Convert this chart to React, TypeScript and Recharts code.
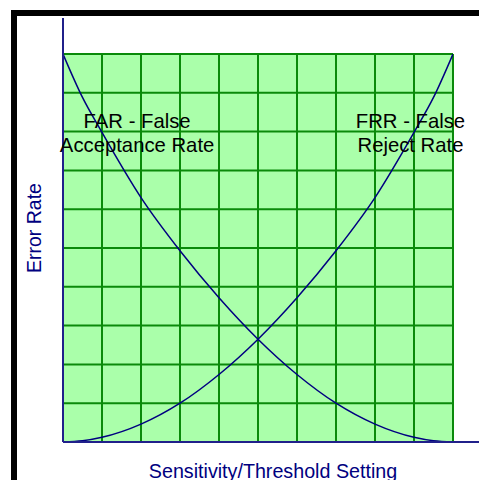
import React from "react";
import { LineChart, Line, XAxis, YAxis, CartesianGrid, ReferenceLine, ReferenceDot } from "recharts";

const thresholds = [0, 0.5, 1, 2, 3, 4, 5, 6, 7, 8, 9, 9.5, 10];
const farValues = [10, 8.88, 7.98, 6.3, 4.93, 3.72, 2.65, 1.74, 1.0, 0.46, 0.12, 0.03, 0];
const frrValues = [0, 0.03, 0.12, 0.46, 1.0, 1.74, 2.65, 3.72, 4.93, 6.3, 7.98, 8.88, 10];
const gridTicks = [0, 1, 2, 3, 4, 5, 6, 7, 8, 9, 10];

const farLabel = ["FAR - False", "Acceptance Rate"];
const frrLabel = ["FRR - False", "Reject Rate"];
const xTitle = "Sensitivity/Threshold Setting";
const yTitle = "Error Rate";

const data = thresholds.map((x, i) => ({ x, far: farValues[i], frr: frrValues[i] }));

const NAVY = "#000080";
const FONT = '"Liberation Sans", Arial, Helvetica, sans-serif';

export default function App() {
  return (
    <div style={{ position: "relative", width: 479, height: 472 }}>
      <div
        style={{
          position: "absolute",
          left: 3,
          top: 2,
          width: 476,
          height: 478,
          borderTop: "6px solid #000",
          borderLeft: "6px solid #000",
          boxSizing: "border-box",
        }}
      />
      <div style={{ position: "absolute", left: 0, top: 0 }}>
        <LineChart
          width={479}
          height={480}
          data={data}
          margin={{ top: 46, right: 34, bottom: 46, left: 55 }}
          style={{ fontFamily: FONT }}
        >
          <CartesianGrid
            fill="#aaffaa"
            fillOpacity={1}
            stroke="#0a8a0a"
            strokeWidth={2}
            strokeOpacity={1}
          />
          <XAxis type="number" dataKey="x" domain={[0, 10]} ticks={gridTicks} allowDataOverflow hide />
          <YAxis type="number" domain={[0, 10]} ticks={gridTicks} allowDataOverflow hide />
          <Line type="monotone" dataKey="far" stroke={NAVY} strokeWidth={1.5} dot={false} isAnimationActive={false} />
          <Line type="monotone" dataKey="frr" stroke={NAVY} strokeWidth={1.5} dot={false} isAnimationActive={false} />
          <ReferenceLine
            segment={[{ x: 0, y: 0 }, { x: 0, y: 10.93 }]}
            stroke="#20208a"
            strokeWidth={2}
            ifOverflow="visible"
          />
          <ReferenceLine
            segment={[{ x: 0, y: 0 }, { x: 10.87, y: 0 }]}
            stroke="#20208a"
            strokeWidth={2}
            ifOverflow="visible"
          />
          <ReferenceDot x={1.9} y={8.28} r={0} fill="none" stroke="none" ifOverflow="visible"
            label={{ value: farLabel[0], position: "center", fontSize: 20.3, fill: "#000" }} />
          <ReferenceDot x={1.9} y={7.66} r={0} fill="none" stroke="none" ifOverflow="visible"
            label={{ value: farLabel[1], position: "center", fontSize: 20.3, fill: "#000" }} />
          <ReferenceDot x={8.91} y={8.28} r={0} fill="none" stroke="none" ifOverflow="visible"
            label={{ value: frrLabel[0], position: "center", fontSize: 20.3, fill: "#000" }} />
          <ReferenceDot x={8.91} y={7.66} r={0} fill="none" stroke="none" ifOverflow="visible"
            label={{ value: frrLabel[1], position: "center", fontSize: 20.3, fill: "#000" }} />
          <ReferenceDot x={5.385} y={-0.753} r={0} fill="none" stroke="none" ifOverflow="visible"
            label={{ value: xTitle, position: "center", fontSize: 19.7, fill: NAVY }} />
          <ReferenceDot x={-0.751} y={5.515} r={0} fill="none" stroke="none" ifOverflow="visible"
            label={{ value: yTitle, position: "center", fontSize: 19.5, fill: NAVY, angle: -90 }} />
        </LineChart>
      </div>
    </div>
  );
}
